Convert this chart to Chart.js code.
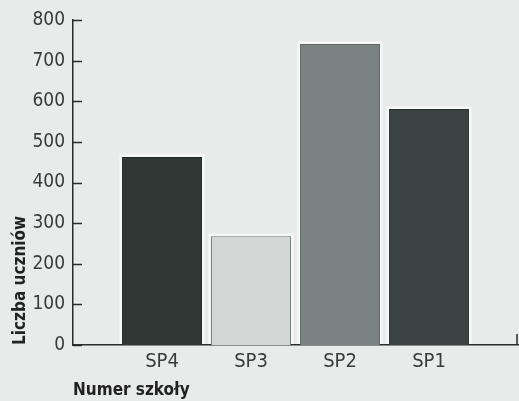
<!DOCTYPE html>
<html lang="pl">
<head>
<meta charset="utf-8">
<title>Liczba uczniów</title>
<script src="https://cdn.jsdelivr.net/npm/chart.js@4.4.1/dist/chart.umd.min.js"></script>
<style>
  html, body { margin: 0; padding: 0; background: #e9eaea; }
  #wrap { width: 519px; height: 401px; position: relative; }
</style>
</head>
<body>
<div id="wrap"><canvas id="chart"></canvas></div>
<script>
// Liczba uczniów w szkołach podstawowych
const SZKOLY    = ['SP4', 'SP3', 'SP2', 'SP1'];
const UCZNIOWIE = [463, 268, 741, 581];
const KOLORY    = ['#303836', '#d5d7d7', '#7b8282', '#3a4341'];
const RAMKI     = ['#1f2523', '#6f7474', '#5f6666', '#2a3231'];
const Y_MAX  = 800;
const Y_KROK = 100;

const FONT       = "'DejaVu Sans Condensed', 'Liberation Sans', sans-serif";
const AXIS_COLOR = '#2b2b2b';
const TEXT_COLOR = '#3a3a3a';
const HALO       = '#f6f7f7';

// puste miejsca na brzegach osi, słupki stoją na kreskach podziału
const etykiety = ['', ...SZKOLY, ''];
const wartosci = [null, ...UCZNIOWIE, null];

// jasna obwódka wokół słupków (jak w druku)
const obwodka = {
  id: 'obwodka',
  beforeDatasetsDraw(chart) {
    const { ctx } = chart;
    ctx.save();
    ctx.fillStyle = HALO;
    chart.getDatasetMeta(0).data.forEach((bar, i) => {
      if (wartosci[i] == null) return;
      const { x, y, width, base } = bar.getProps(['x', 'y', 'width', 'base'], true);
      ctx.fillRect(x - width / 2 - 2.5, y - 2.5, width + 5, base - y + 1.5);
    });
    ctx.restore();
  }
};

// kreski podziałki rysowane do wewnątrz wykresu
const kreskiDoSrodka = {
  id: 'kreskiDoSrodka',
  afterDraw(chart) {
    const { ctx, chartArea, scales: { y } } = chart;
    ctx.save();
    ctx.strokeStyle = AXIS_COLOR;
    ctx.lineWidth = 1.5;
    ctx.beginPath();
    y.ticks.forEach(t => {
      const py = Math.round(y.getPixelForValue(t.value)) + 0.5;
      ctx.moveTo(chartArea.left, py);
      ctx.lineTo(chartArea.left + 9, py);
    });
    ctx.moveTo(chartArea.right - 1, chartArea.bottom);
    ctx.lineTo(chartArea.right - 1, chartArea.bottom - 11);
    ctx.stroke();
    ctx.restore();
  }
};

new Chart(document.getElementById('chart'), {
  type: 'bar',
  data: {
    labels: etykiety,
    datasets: [{
      data: wartosci,
      backgroundColor: [null, ...KOLORY, null],
      borderColor: [null, ...RAMKI, null],
      borderWidth: 1,
      barPercentage: 0.9,
      categoryPercentage: 1.0
    }]
  },
  options: {
    responsive: true,
    maintainAspectRatio: false,
    animation: false,
    layout: { padding: { top: 20, right: 1, left: 0, bottom: 0 } },
    plugins: {
      legend:  { display: false },
      tooltip: { enabled: false }
    },
    scales: {
      x: {
        offset: false,
        grid:   { display: false },
        border: { color: AXIS_COLOR, width: 1.5 },
        ticks:  { color: TEXT_COLOR, font: { family: FONT, size: 20 }, padding: -3, maxRotation: 0, autoSkip: false },
        title:  { display: true, text: 'Numer szkoły', align: 'start', color: '#222', font: { family: FONT, size: 17, weight: 'bold' }, padding: { top: 0, bottom: 0 } },
        afterFit(scale) { scale.height = 56; }
      },
      y: {
        min: 0, max: Y_MAX,
        grid:   { display: false },
        border: { color: AXIS_COLOR, width: 1.5 },
        ticks:  { stepSize: Y_KROK, color: TEXT_COLOR, font: { family: FONT, size: 19 }, padding: 0 },
        title:  { display: true, text: 'Liczba uczniów', align: 'start', color: '#222', font: { family: FONT, size: 17, weight: 'bold' }, padding: { top: 10, bottom: 4 } },
        afterFit(scale) { scale.width = 73; }
      }
    }
  },
  plugins: [obwodka, kreskiDoSrodka]
});
</script>
</body>
</html>
